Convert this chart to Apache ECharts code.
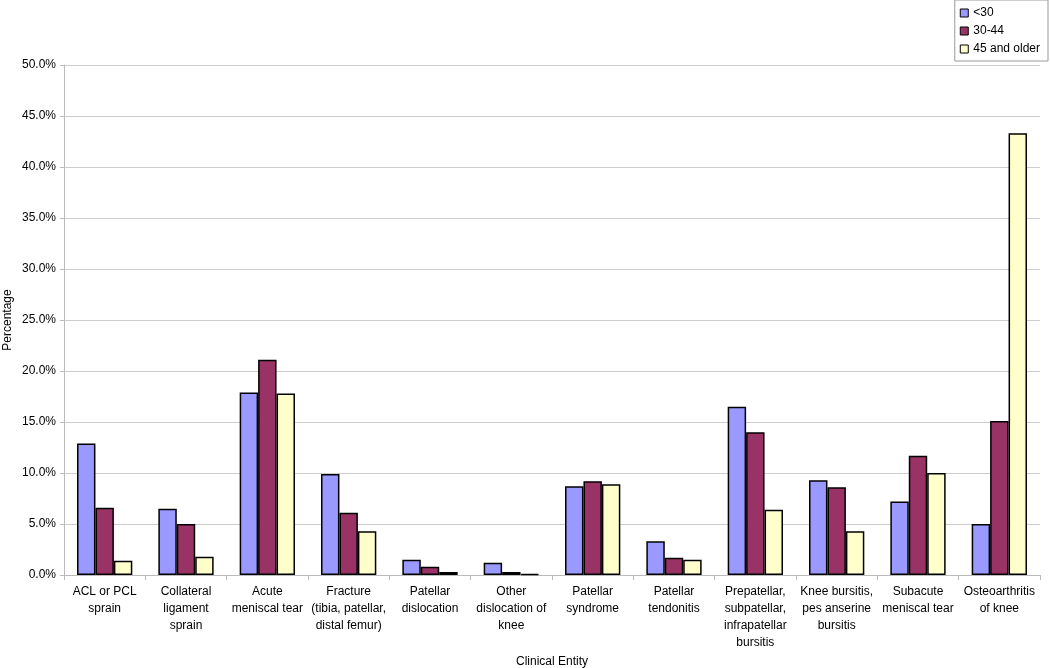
<!DOCTYPE html>
<html><head><meta charset="utf-8">
<script src="https://cdn.jsdelivr.net/npm/echarts@6/dist/echarts.min.js"></script>
<style>html,body{margin:0;padding:0;background:#fff}#c{width:1050px;height:668px}</style>
</head><body><div id="c"></div>
<script>
const categories = [
  "ACL or PCL\nsprain",
  "Collateral\nligament\nsprain",
  "Acute\nmeniscal tear",
  "Fracture\n(tibia, patellar,\ndistal femur)",
  "Patellar\ndislocation",
  "Other\ndislocation of\nknee",
  "Patellar\nsyndrome",
  "Patellar\ntendonitis",
  "Prepatellar,\nsubpatellar,\ninfrapatellar\nbursitis",
  "Knee bursitis,\npes anserine\nbursitis",
  "Subacute\nmeniscal tear",
  "Osteoarthritis\nof knee"
];
const seriesNames = ["<30", "30-44", "45 and older"];
const under30 = [12.9, 6.5, 17.9, 9.9, 1.5, 1.2, 8.7, 3.3, 16.5, 9.3, 7.2, 5.0];
const age30to44 = [6.6, 5.0, 21.1, 6.1, 0.8, 0.3, 9.2, 1.7, 14.0, 8.6, 11.7, 15.1];
const age45plus = [1.4, 1.8, 17.8, 4.3, 0.3, 0.1, 8.9, 1.5, 6.4, 4.3, 10.0, 43.3];
const colors = ["#9999FF", "#993366", "#FFFFCC"];
const yTicks = {min: 0, max: 50, interval: 5};

const sans = "'Liberation Sans',Arial,sans-serif";
const chart = echarts.init(document.getElementById('c'));
const mk = (name, data, i) => ({
  name, type: 'bar', data,
  barGap: '0%', barCategoryGap: '32%',
  itemStyle: {color: colors[i], borderColor: '#000', borderWidth: 1.5},
  emphasis: {disabled: true}
});
chart.setOption({
  animation: false,
  textStyle: {fontFamily: sans},
  grid: {left: 64, right: 10, top: 65, bottom: 93, containLabel: false, outerBoundsMode: 'none'},
  legend: {
    orient: 'vertical', right: 2, top: 0,
    data: seriesNames,
    icon: 'rect', itemWidth: 8, itemHeight: 8, itemGap: 6,
    borderColor: '#999', borderWidth: 1, padding: [7, 8, 6, 5],
    textStyle: {fontSize: 12, color: '#000', fontFamily: sans},
    itemStyle: {borderColor: '#000', borderWidth: 1}
  },
  xAxis: {
    type: 'category', data: categories,
    name: 'Clinical Entity', nameLocation: 'middle', nameGap: 79,
    nameTextStyle: {fontSize: 12, color: '#000'},
    axisLine: {lineStyle: {color: '#bbb'}},
    axisTick: {show: true, lineStyle: {color: '#bbb'}, length: 5},
    axisLabel: {interval: 0, fontSize: 12, color: '#000', lineHeight: 17, margin: 8}
  },
  yAxis: {
    type: 'value', min: yTicks.min, max: yTicks.max, interval: yTicks.interval,
    name: 'Percentage', nameLocation: 'middle', nameGap: 50, nameRotate: 90,
    nameMoveOverlap: false,
    nameTextStyle: {fontSize: 12, color: '#000', fontFamily: sans},
    axisLine: {show: true, lineStyle: {color: '#bbb'}},
    axisTick: {show: true, inside: false, length: 4, lineStyle: {color: '#bbb'}},
    axisLabel: {fontSize: 12, color: '#000', margin: 8, fontFamily: sans,
      formatter: v => v.toFixed(1) + '%'},
    splitLine: {lineStyle: {color: '#ccc', width: 1}}
  },
  series: [mk(seriesNames[0], under30, 0), mk(seriesNames[1], age30to44, 1), mk(seriesNames[2], age45plus, 2)]
});
</script></body></html>
